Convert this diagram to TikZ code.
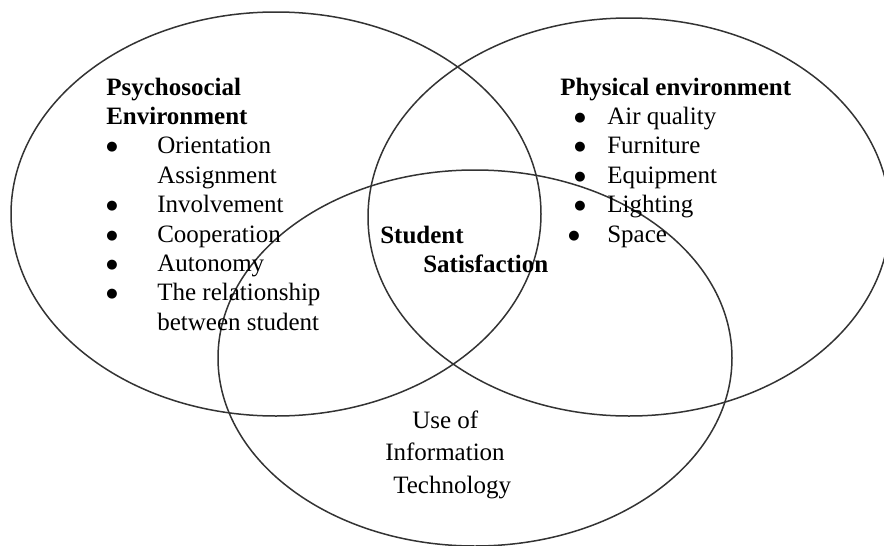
\documentclass[tikz,border=0pt]{standalone}
\usepackage{fontspec}
\setmainfont{Liberation Serif}
\newfontfamily\dotfont{DejaVu Sans}
\usetikzlibrary{shapes.geometric}

% bullet followed by the item text, #1 = shift of the bullet, #2 = room left for it
\newcommand{\bul}[3]{\hspace*{#1}\makebox[#2][l]{\raisebox{3pt}{\dotfont\fontsize{13}{13}\selectfont ●}}#3}

\begin{document}
\begin{tikzpicture}[x=1pt,y=-1pt,semithick]
  \tikzstyle{every ellipse}=[ellipse,draw=black!80,line width=1.5pt,inner sep=0pt]
  \tikzstyle{block}=[inner sep=0pt,anchor=base west,
                     font=\fontsize{25}{29.4}\selectfont]

  \useasboundingbox (0,0) rectangle (884,546);

  % the three areas
  \node[every ellipse,minimum width=530pt,minimum height=404pt] (psy) at (276,214) {};
  \node[every ellipse,minimum width=522pt,minimum height=398pt] (phy) at (629,217) {};
  \node[every ellipse,minimum width=514pt,minimum height=376pt] (ict) at (475,358) {};

  \node[block] (psytxt) at (106,95) {\begin{tabular}[t]{@{}l@{}}
      \textbf{Psychosocial}\\
      \textbf{Environment}\\
      \bul{0pt}{51pt}{Orientation}\\
      \hspace*{51pt}Assignment\\
      \bul{0pt}{51pt}{Involvement}\\
      \bul{0pt}{51pt}{Cooperation}\\
      \bul{0pt}{51pt}{Autonomy}\\
      \bul{0pt}{51pt}{The relationship}\\
      \hspace*{51pt}between student
    \end{tabular}};

  \node[block] (phytxt) at (560,95) {\begin{tabular}[t]{@{}l@{}}
      \textbf{Physical environment}\\
      \bul{14pt}{33pt}{Air quality}\\
      \bul{14pt}{33pt}{Furniture}\\
      \bul{14pt}{33pt}{Equipment}\\
      \bul{14pt}{33pt}{Lighting}\\
      \bul{8pt}{39pt}{Space}
    \end{tabular}};

  \node[block] (sat) at (380,243) {\begin{tabular}[t]{@{}l@{}}
      \textbf{Student}\\
      \hspace*{43pt}\textbf{Satisfaction}
    \end{tabular}};

  \node[block,font=\fontsize{25}{32.5}\selectfont] (icttxt) at (385,428) {\begin{tabular}[t]{@{}l@{}}
      \hspace*{27pt}Use of\\
      Information\\
      \hspace*{8pt}Technology
    \end{tabular}};
\end{tikzpicture}
\end{document}
